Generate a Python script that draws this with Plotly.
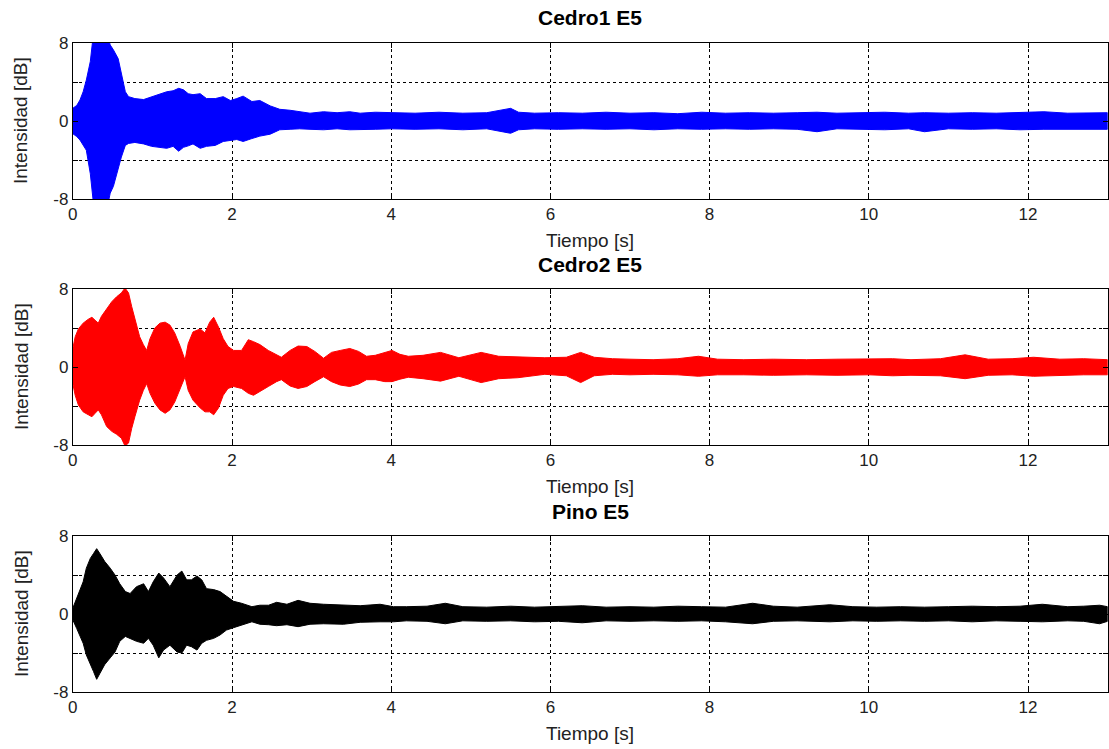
import plotly.graph_objects as go

# Amplitude envelopes (upper / lower) of each recorded tone, in dB, versus time in s
t_cedro1 = [0.0, 0.05, 0.09, 0.13, 0.17, 0.22, 0.26, 0.30, 0.34, 0.43,
            0.47, 0.51, 0.57, 0.61, 0.66, 0.70, 0.78, 0.89, 0.99, 1.10,
            1.18, 1.26, 1.33, 1.39, 1.45, 1.51, 1.60, 1.68, 1.79, 1.89,
            1.98, 2.06, 2.14, 2.25, 2.35, 2.48, 2.60, 2.73, 2.85, 2.98,
            3.15, 3.32, 3.48, 3.61,
            3.8, 4.0, 4.3, 4.6, 4.9, 5.2, 5.5, 5.6, 5.8, 6.1,
            6.4, 6.7, 7.0, 7.3, 7.6, 7.9, 8.2, 8.5, 8.8, 9.1,
            9.35, 9.6, 9.9, 10.2, 10.5, 10.7, 11.0, 11.3, 11.6, 11.9,
            12.2, 12.5, 12.8, 13.0]
up_cedro1 = [1.3, 1.6, 2.15, 3.0, 4.2, 6.1, 9.0, 9.5, 9.5, 9.0,
             7.8, 7.3, 6.4, 4.9, 3.0, 2.5, 2.3, 2.2, 2.5, 2.8,
             3.0, 3.1, 3.35, 3.2, 2.8, 2.7, 2.8, 2.3, 2.3, 2.5,
             2.1, 2.3, 2.55, 2.0, 2.1, 1.55, 1.2, 1.1, 0.95, 0.8,
             0.95, 0.85, 0.95, 0.8,
             0.9, 0.85, 0.8, 0.9, 0.8, 0.85, 1.3, 0.9, 0.8, 0.85,
             0.8, 0.9, 0.8, 0.85, 0.75, 0.9, 0.8, 0.85, 0.8, 0.85,
             0.9, 0.8, 0.85, 0.9, 0.8, 0.85, 0.8, 0.85, 0.8, 0.85,
             0.95, 0.8, 0.85, 0.85]
lo_cedro1 = [-1.3, -1.6, -1.95, -2.5, -3.0, -5.4, -8.5, -9.5, -9.5, -9.0,
             -7.4, -6.7, -5.0, -3.7, -2.5, -2.3, -2.2, -2.35, -2.6, -2.7,
             -2.8, -2.6, -3.1, -2.7, -2.55, -2.35, -2.8, -2.6, -2.5, -2.1,
             -2.0, -1.9, -2.1, -1.8, -1.55, -1.35, -0.9, -0.85, -0.8, -0.85,
             -0.9, -0.8, -0.9, -0.85,
             -0.85, -0.8, -0.85, -0.8, -0.9, -0.8, -1.26, -0.9, -0.8, -0.85,
             -0.8, -0.85, -0.8, -0.9, -0.8, -0.85, -0.8, -0.85, -0.8, -0.85,
             -1.1, -0.8, -0.85, -0.9, -0.8, -1.1, -0.8, -0.85, -0.8, -0.9,
             -0.85, -0.8, -0.85, -0.85]

t_cedro2 = [0.0, 0.03, 0.07, 0.13, 0.195, 0.24, 0.28, 0.32, 0.36, 0.425,
            0.49, 0.55, 0.61, 0.656, 0.70, 0.74, 0.78, 0.84, 0.886, 0.928,
            0.97, 1.03, 1.095, 1.16, 1.22, 1.28, 1.35, 1.41, 1.45, 1.51,
            1.60, 1.66, 1.72, 1.77, 1.83, 1.89, 1.95, 2.02, 2.12, 2.205,
            2.27, 2.35, 2.456, 2.56, 2.62, 2.73, 2.83, 2.94, 3.04, 3.15,
            3.25, 3.36, 3.48, 3.59, 3.69, 3.80, 3.92, 4.01, 4.11, 4.215,
            4.4, 4.62, 4.85, 5.13, 5.35, 5.59, 5.93, 6.2, 6.38, 6.55,
            6.78, 7.0, 7.29, 7.6, 7.86, 8.1, 8.43, 8.8, 9.22, 9.6,
            10.0, 10.3, 10.53, 10.9, 11.21, 11.5, 11.8, 12.07, 12.4, 12.7,
            13.0]
up_cedro2 = [1.9, 3.1, 3.9, 4.5, 4.9, 5.1, 4.8, 4.5, 5.2, 6.0,
             6.7, 7.2, 7.6, 8.1, 7.6, 6.2, 5.0, 3.1, 2.3, 1.7,
             2.9, 4.0, 4.5, 4.6, 4.3, 3.5, 2.1, 0.7, 2.4, 3.6,
             3.9, 3.5, 4.6, 5.1, 4.1, 2.9, 2.1, 1.7, 1.7, 2.8,
             2.6, 2.3, 1.7, 1.2, 1.0, 1.7, 2.15, 2.1, 1.6, 0.9,
             1.5, 1.7, 1.9, 1.6, 1.1, 1.2, 1.5, 1.7, 1.3, 1.1,
             1.2, 1.5, 0.95, 1.5, 1.1, 1.05, 0.95, 1.0, 1.5, 1.0,
             0.85, 0.8, 0.75, 0.85, 1.1, 0.8, 0.75, 0.8, 0.75, 0.8,
             0.8, 0.85, 0.75, 0.85, 1.25, 0.8, 0.85, 1.0, 0.8, 0.85,
             0.75]
lo_cedro2 = [-1.7, -2.9, -3.9, -4.6, -4.9, -5.1, -4.75, -4.4, -4.9, -6.1,
             -6.6, -6.9, -7.3, -8.1, -7.8, -6.3, -5.1, -3.4, -2.4, -1.7,
             -2.7, -3.7, -4.4, -4.75, -4.4, -3.6, -2.2, -1.0, -2.4, -3.4,
             -4.2, -4.6, -4.6, -4.9, -4.2, -2.9, -2.2, -2.0, -2.2, -2.7,
             -2.9, -2.5, -2.0, -1.5, -1.3, -1.95, -2.2, -2.0, -1.5, -1.0,
             -1.5, -1.85, -2.0, -1.75, -1.3, -1.3, -1.5, -1.5, -1.25, -1.05,
             -1.2, -1.45, -0.95, -1.6, -1.2, -1.1, -0.75, -0.9, -1.6, -0.9,
             -0.75, -0.8, -0.75, -0.8, -0.95, -0.8, -0.8, -0.85, -0.8, -0.85,
             -0.8, -0.9, -0.85, -0.9, -1.2, -0.85, -0.8, -0.95, -0.85, -0.8,
             -0.8]

t_pino = [0.0, 0.05, 0.09, 0.13, 0.17, 0.22, 0.26, 0.30, 0.34, 0.40,
          0.47, 0.53, 0.59, 0.66, 0.72, 0.80, 0.89, 0.95, 1.01, 1.08,
          1.14, 1.22, 1.31, 1.37, 1.43, 1.49, 1.56, 1.62, 1.68, 1.77,
          1.85, 1.93, 2.02, 2.12, 2.25, 2.35, 2.46, 2.56, 2.69, 2.83,
          2.98, 3.15, 3.40, 3.61, 3.86, 4.03, 4.19,
          4.45, 4.68, 4.9, 5.2, 5.5, 5.8, 6.1, 6.4, 6.7, 7.0,
          7.3, 7.6, 7.9, 8.2, 8.54, 8.8, 9.1, 9.51, 9.8, 10.1,
          10.4, 10.7, 11.0, 11.3, 11.6, 11.9, 12.18, 12.5, 12.7, 12.9,
          13.0]
up_pino = [0.6, 1.6, 2.3, 3.3, 4.7, 5.7, 6.2, 6.7, 6.2, 5.4,
           4.7, 4.0, 3.1, 2.3, 2.1, 2.8, 3.1, 2.3, 3.3, 4.2,
           3.7, 2.8, 4.0, 4.4, 3.5, 3.5, 3.9, 3.5, 2.6, 2.5,
           2.3, 1.8, 1.3, 1.1, 0.75, 0.9, 0.9, 1.2, 1.0, 1.4,
           1.1, 1.0, 0.9, 0.85, 1.0, 0.75, 0.75,
           0.8, 1.1, 0.75, 0.7, 0.8, 0.7, 0.75, 0.85, 0.7, 0.75,
           0.7, 0.8, 0.75, 0.7, 1.1, 0.8, 0.7, 0.95, 0.75, 0.7,
           0.75, 0.7, 0.75, 0.8, 0.75, 0.8, 1.0, 0.75, 0.8, 0.9,
           0.75]
lo_pino = [-0.6, -1.5, -2.15, -3.0, -4.2, -5.2, -5.9, -6.7, -6.1, -5.2,
           -4.5, -3.9, -2.8, -2.3, -2.5, -2.8, -3.0, -2.5, -3.2, -4.5,
           -3.7, -3.2, -3.9, -4.0, -3.2, -3.35, -3.7, -3.0, -2.7, -2.5,
           -2.15, -1.65, -1.4, -1.1, -0.8, -1.05, -1.1, -1.2, -1.1, -1.3,
           -1.05, -1.0, -1.05, -0.85, -0.8, -0.8, -0.7,
           -0.75, -1.0, -0.7, -0.75, -0.7, -0.8, -0.75, -0.9, -0.7, -0.75,
           -0.7, -0.75, -0.7, -0.8, -1.0, -0.75, -0.7, -0.8, -0.7, -0.75,
           -0.7, -0.75, -0.7, -0.8, -0.7, -0.75, -0.8, -0.7, -0.75, -1.0,
           -0.75]

titles = ["Cedro1 E5", "Cedro2 E5", "Pino E5"]
colors = ["#0000FF", "#FF0000", "#000000"]
x_ticks = [0, 2, 4, 6, 8, 10, 12]
y_ticks = [-8, -4, 0, 4, 8]
y_ticktext = ["-8", "", "0", "", "8"]

series = [(t_cedro1, up_cedro1, lo_cedro1),
          (t_cedro2, up_cedro2, lo_cedro2),
          (t_pino, up_pino, lo_pino)]

W, H = 1109, 749
x_dom = [72.8 / W, 1107.6 / W]
# pixel rows (top, bottom) of each plotting area
rows_px = [(43, 199), (289, 445), (536, 692)]

FONT = "Liberation Sans, Arial, sans-serif"
TEXT = "#222222"
fig = go.Figure()
annotations = []

for i, ((t, up, lo), title, color) in enumerate(zip(series, titles, colors)):
    assert len(t) == len(up) == len(lo), (title, len(t), len(up), len(lo))
    n = "" if i == 0 else str(i + 1)
    top, bot = rows_px[i]
    y_dom = [1 - bot / H, 1 - top / H]

    fig.add_trace(go.Scatter(
        x=list(t) + list(t)[::-1],
        y=list(up) + list(lo)[::-1],
        fill="toself", fillcolor=color,
        line=dict(color=color, width=1),
        mode="lines", hoverinfo="skip", showlegend=False,
        xaxis="x" + n, yaxis="y" + n,
    ))

    common = dict(
        showline=True, linecolor="#000000", linewidth=1, mirror="ticks",
        ticks="inside", ticklen=5, tickcolor="#000000",
        showgrid=True, gridcolor="#000000", gridwidth=1, griddash="3px,3px",
        zeroline=False, fixedrange=True, automargin=False,
        tickfont=dict(family=FONT, size=17, color=TEXT),
    )
    fig.update_layout(**{
        "xaxis" + n: dict(domain=x_dom, range=[0, 13], tickvals=x_ticks,
                          anchor="y" + n, **common),
        "yaxis" + n: dict(domain=y_dom, range=[-8, 8], tickvals=y_ticks,
                          ticktext=y_ticktext, anchor="x" + n, **common),
    })

    xc = (x_dom[0] + x_dom[1]) / 2
    annotations.append(dict(
        text="<b>" + title + "</b>", x=xc, y=1 - (top - 25) / H,
        xref="paper", yref="paper", xanchor="center", yanchor="middle",
        showarrow=False, font=dict(family=FONT, size=21, color="#000000")))
    annotations.append(dict(
        text="Tiempo [s]", x=xc, y=1 - (bot + 41) / H,
        xref="paper", yref="paper", xanchor="center", yanchor="middle",
        showarrow=False, font=dict(family=FONT, size=19, color=TEXT)))
    annotations.append(dict(
        text="Intensidad [dB]", x=21 / W, y=1 - ((top + bot) / 2) / H,
        xref="paper", yref="paper", xanchor="center", yanchor="middle",
        textangle=-90, showarrow=False,
        font=dict(family=FONT, size=19, color=TEXT)))

fig.update_layout(
    template="none",
    width=W, height=H,
    margin=dict(l=0, r=0, t=0, b=0, pad=0, autoexpand=False),
    paper_bgcolor="#FFFFFF", plot_bgcolor="#FFFFFF",
    annotations=annotations,
    showlegend=False,
)

fig.write_html("out.html")
